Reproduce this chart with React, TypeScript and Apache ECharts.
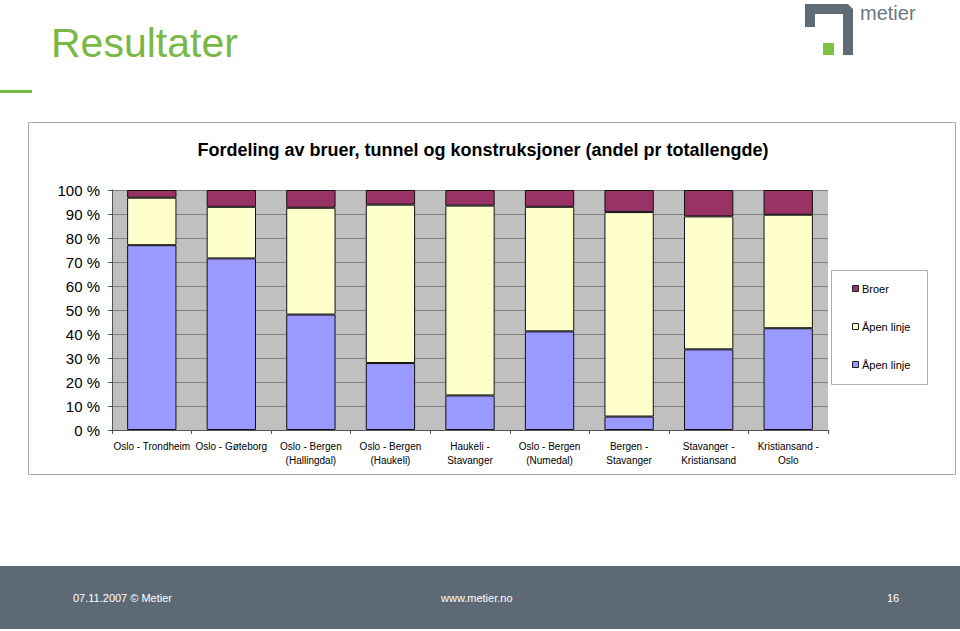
import React, { useEffect, useRef } from "react";
import * as echarts from "echarts";

const categories = [
  "Oslo - Trondheim",
  "Oslo - Gøteborg",
  "Oslo - Bergen\n(Hallingdal)",
  "Oslo - Bergen\n(Haukeli)",
  "Haukeli -\nStavanger",
  "Oslo - Bergen\n(Numedal)",
  "Bergen -\nStavanger",
  "Stavanger -\nKristiansand",
  "Kristiansand -\nOslo",
];
const apenLinjeBlue = [77.0, 71.5, 48.1, 27.9, 14.4, 41.1, 5.6, 33.6, 42.4];
const apenLinjeYellow = [19.8, 21.5, 44.5, 66.0, 79.1, 51.9, 85.2, 55.4, 47.3];
const broer = [3.2, 7.0, 7.4, 6.1, 6.5, 7.0, 9.2, 11.0, 10.3];
const legendItems = [
  { name: "Broer", color: "#993366" },
  { name: "Åpen linje", color: "#ffffcc" },
  { name: "Åpen linje", color: "#9999ff" },
];
const chartTitle = "Fordeling av bruer, tunnel og konstruksjoner (andel pr totallengde)";
const pageTitle = "Resultater";
const footerLeft = "07.11.2007 © Metier";
const footerMid = "www.metier.no";
const footerRight = "16";

export default function App() {
  const ref = useRef<HTMLDivElement>(null);
  useEffect(() => {
    if (!ref.current) return;
    const chart = echarts.init(ref.current, null, { renderer: "svg" });
    const font = "Liberation Sans, Arial, sans-serif";
    const barItem = (color: string) => ({ color, borderColor: "#111", borderWidth: 1 });
    const legendGraphics: any[] = [
      {
        type: "rect",
        shape: { x: 831.5, y: 270.5, width: 96, height: 114 },
        style: { fill: "#fff", stroke: "#b0b0b0", lineWidth: 1 },
        z: 10,
      },
    ];
    legendItems.forEach((it, i) => {
      const cy = 289 + i * 38;
      legendGraphics.push({
        type: "rect",
        shape: { x: 852.5, y: cy - 3.5, width: 6, height: 6 },
        style: { fill: it.color, stroke: "#222", lineWidth: 1 },
        z: 11,
      });
      legendGraphics.push({
        type: "text",
        x: 862,
        y: cy,
        style: { text: it.name, fill: "#000", font: `11px ${font}`, textVerticalAlign: "middle" },
        z: 11,
      });
    });
    chart.setOption({
      animation: false,
      backgroundColor: "#ffffff",
      title: {
        text: chartTitle,
        left: 478,
        textAlign: "center",
        top: 136,
        textStyle: { fontFamily: font, fontSize: 18, fontWeight: "bold", color: "#000" },
      },
      grid: {
        left: 112,
        right: 132,
        top: 190,
        bottom: 201,
        show: true,
        backgroundColor: "#c0c0c0",
        borderWidth: 0,
      },
      xAxis: {
        type: "category",
        data: categories,
        axisLine: { show: true, lineStyle: { color: "#555", width: 1 } },
        axisTick: { show: true, length: 4, lineStyle: { color: "#555" } },
        axisLabel: {
          interval: 0,
          margin: 9,
          fontFamily: font,
          fontSize: 10,
          color: "#000",
          lineHeight: 14,
        },
      },
      yAxis: {
        type: "value",
        min: 0,
        max: 100,
        interval: 10,
        axisLine: { show: true, lineStyle: { color: "#555", width: 1 } },
        axisTick: { show: true, length: 4, lineStyle: { color: "#555" } },
        axisLabel: {
          formatter: "{value} %",
          margin: 12,
          fontFamily: font,
          fontSize: 15,
          color: "#000",
        },
        splitLine: { show: true, lineStyle: { color: "#808080", width: 1 } },
      },
      series: [
        { name: "Åpen linje (blå)", type: "bar", stack: "s", data: apenLinjeBlue, barCategoryGap: "38%", itemStyle: barItem("#9999ff") },
        { name: "Åpen linje", type: "bar", stack: "s", data: apenLinjeYellow, itemStyle: barItem("#ffffcc") },
        { name: "Broer", type: "bar", stack: "s", data: broer, itemStyle: barItem("#993366") },
      ],
      graphic: [
        {
          type: "rect",
          shape: { x: 28.5, y: 122.5, width: 927, height: 352 },
          style: { fill: "none", stroke: "#a8a8a8", lineWidth: 1 },
          z: -1,
          silent: true,
        },
        ...legendGraphics,
        {
          type: "text",
          x: 51,
          y: 43,
          style: { text: pageTitle, fill: "#78b845", font: `41px ${font}`, textVerticalAlign: "middle" },
        },
        {
          type: "rect",
          shape: { x: 0, y: 90, width: 32, height: 3 },
          style: { fill: "#78b845" },
        },
        {
          type: "polygon",
          shape: {
            points: [
              [805, 4], [848, 4], [853, 9], [853, 55], [843, 55], [843, 14], [815, 14], [815, 27], [805, 27],
            ],
          },
          style: { fill: "#5f6b75" },
        },
        {
          type: "rect",
          shape: { x: 823, y: 43, width: 11, height: 12 },
          style: { fill: "#7dc242" },
        },
        {
          type: "text",
          x: 860,
          y: 13,
          style: { text: "metier", fill: "#6b7680", font: `20px ${font}`, textVerticalAlign: "middle" },
        },
        {
          type: "rect",
          shape: { x: 0, y: 566, width: 960, height: 63 },
          style: { fill: "#5d6a76" },
        },
        {
          type: "text",
          x: 73,
          y: 598,
          style: { text: footerLeft, fill: "#ffffff", font: `11px ${font}`, textVerticalAlign: "middle" },
        },
        {
          type: "text",
          x: 441,
          y: 598,
          style: { text: footerMid, fill: "#ffffff", font: `11px ${font}`, textVerticalAlign: "middle" },
        },
        {
          type: "text",
          x: 887,
          y: 598,
          style: { text: footerRight, fill: "#ffffff", font: `11px ${font}`, textVerticalAlign: "middle" },
        },
      ],
    });
    return () => chart.dispose();
  }, []);
  return (
    <div
      ref={ref}
      style={{ position: "fixed", left: 0, top: 0, width: 960, height: 631 }}
    />
  );
}
